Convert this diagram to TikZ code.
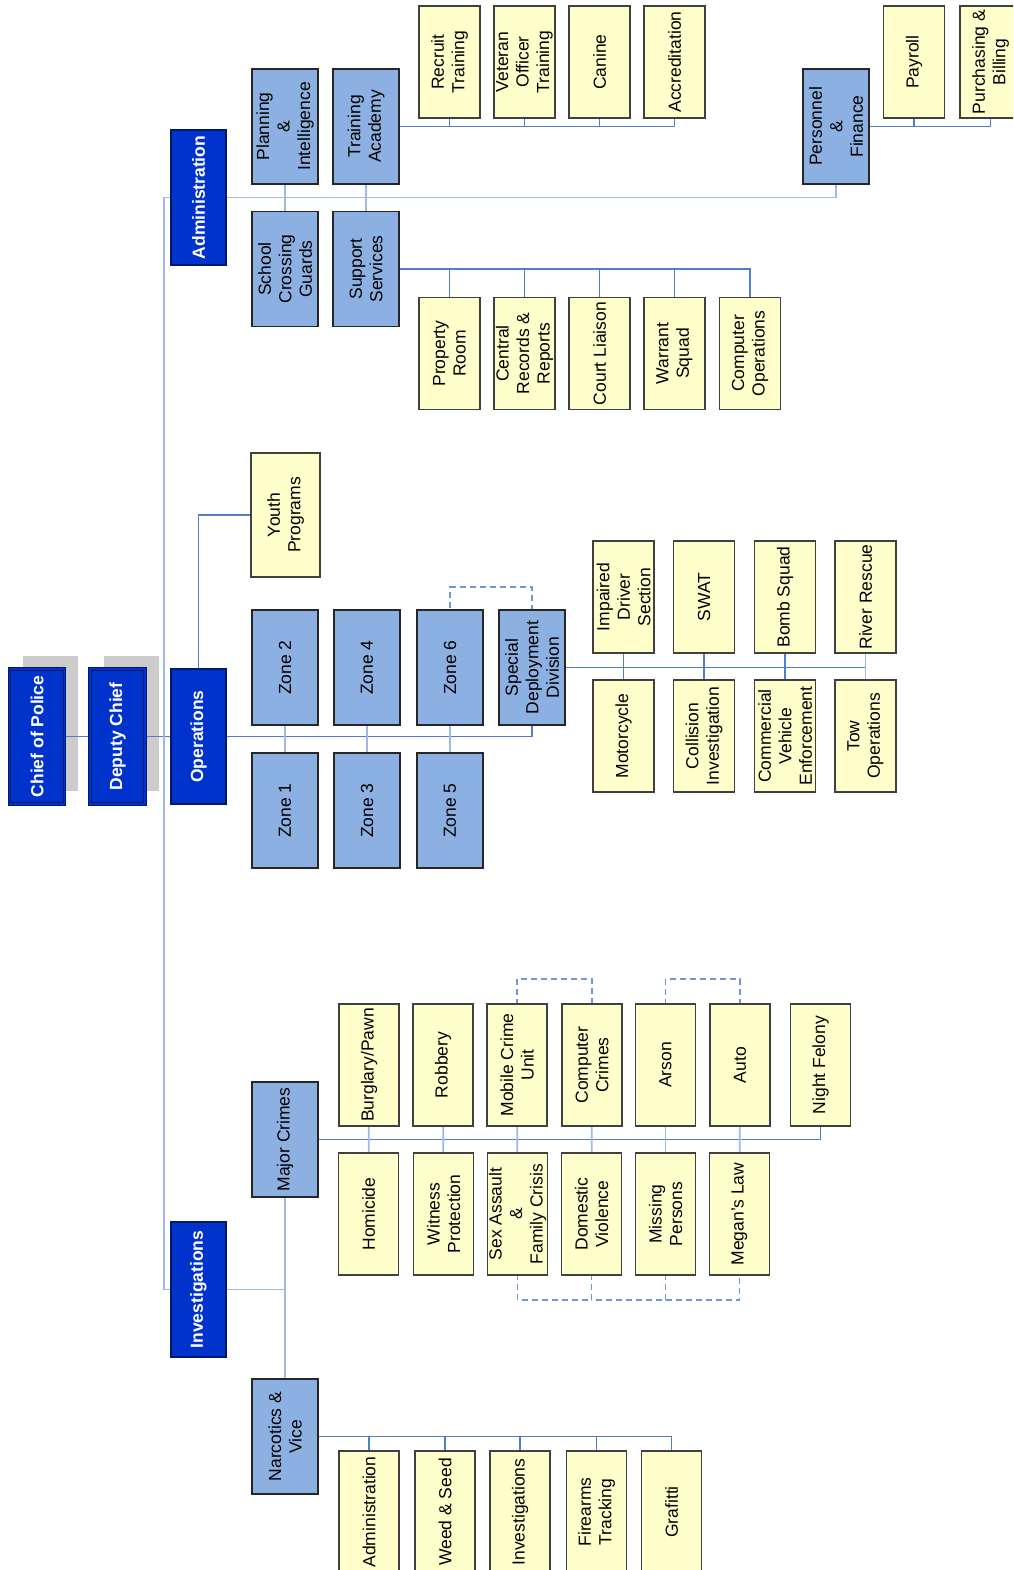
\documentclass[tikz,border=0pt]{standalone}
\usepackage{fontspec}
\setmainfont{Liberation Sans}
\usepackage{tikz}
\usetikzlibrary{backgrounds}
\usepackage{xcolor}
\definecolor{chiefblue}{HTML}{0033CC}
\definecolor{navyline}{HTML}{001A66}
\definecolor{unitblue}{HTML}{8DB0E2}
\definecolor{leafyellow}{HTML}{FFFFCC}
\definecolor{linkblue}{HTML}{4F7FCB}
\definecolor{linklight}{HTML}{9DB9E6}
\definecolor{dashblue}{HTML}{6F97D6}
\definecolor{shadowgrey}{HTML}{CCCCCC}
\tikzset{
	box/.style={rectangle, rotate=90, align=center, inner sep=0pt, line width=1.2pt, font=\fontsize{17.5}{20.5}\selectfont},
	topbox/.style={box, fill=chiefblue, draw=navyline, text=white, font=\fontsize{17.5}{20.5}\selectfont\bfseries, minimum width=135pt, minimum height=55pt},
	chiefbox/.style={topbox, double=chiefblue, double distance=1.5pt, line width=1pt},
	unitbox/.style={box, fill=unitblue, draw=black!85, minimum width=115pt, minimum height=66pt},
	leafbox/.style={box, fill=leafyellow, draw=black!75, minimum width=112pt, minimum height=61pt},
	crimebox/.style={leafbox, minimum width=122pt, minimum height=60pt},
	link/.style={draw=linkblue, line width=1.6pt},
	palelink/.style={draw=linklight, line width=1.6pt},
	dashlink/.style={draw=dashblue, line width=1.5pt, dash pattern=on 6pt off 4pt}
}
\begin{document}
\begin{tikzpicture}[x=1pt, y=-1pt]
	\useasboundingbox (0,0) rectangle (1013,1570);
	\clip (0,0) rectangle (1013,1570);
	% chiefs and divisions
	\node[chiefbox] (chief) at (37,736.5) {Chief of Police};
	\node[chiefbox] (deputy) at (117.5,736.5) {Deputy Chief};
	\node[topbox] (ops) at (198.5,736.5) {Operations};
	\node[topbox] (adm) at (198.5,197.5) {Administration};
	\node[topbox] (inv) at (198.5,1289.5) {Investigations};
	\coordinate (trunk) at (164,736.5);
	% administration
	\begin{scope}
		\node[unitbox] (plan) at (285,126.5) {Planning\\\&\\Intelligence};
		\node[unitbox] (guards) at (285,269) {School\\Crossing\\Guards};
		\node[unitbox] (academy) at (366,126.5) {Training\\Academy};
		\node[unitbox] (support) at (366,269) {Support\\Services};
		\node[unitbox] (personnel) at (836,126.5) {Personnel\\\&\\Finance};
		\node[leafbox] (recruit) at (449.5,62) {Recruit\\Training};
		\node[leafbox] (veteran) at (524.5,62) {Veteran\\Officer\\Training};
		\node[leafbox] (canine) at (599.5,62) {Canine};
		\node[leafbox] (accred) at (674.5,62) {Accreditation};
		\node[leafbox] (property) at (449.5,353.5) {Property\\Room};
		\node[leafbox] (records) at (524.5,353.5) {Central\\Records \&\\Reports};
		\node[leafbox] (court) at (599.5,353.5) {Court Liaison};
		\node[leafbox] (warrant) at (674.5,353.5) {Warrant\\Squad};
		\node[leafbox] (compops) at (750,353.5) {Computer\\Operations};
		\node[leafbox] (payroll) at (914,62) {Payroll};
		\node[leafbox] (purchasing) at (990.5,62) {Purchasing \&\\Billing};
	\end{scope}
	% operations
	\begin{scope}
		\node[leafbox, minimum width=124pt, minimum height=69pt] (youth) at (285.5,515) {Youth\\Programs};
		\node[unitbox] (zone2) at (285,667.5) {Zone 2};
		\node[unitbox] (zone1) at (285,810.5) {Zone 1};
		\node[unitbox] (zone4) at (367,667.5) {Zone 4};
		\node[unitbox] (zone3) at (367,810.5) {Zone 3};
		\node[unitbox] (zone6) at (450,667.5) {Zone 6};
		\node[unitbox] (zone5) at (450,810.5) {Zone 5};
		\node[unitbox] (sdd) at (532,667.5) {Special\\Deployment\\Division};
		\node[leafbox] (impaired) at (623.5,597) {Impaired\\Driver\\Section};
		\node[leafbox] (swat) at (704,597) {SWAT};
		\node[leafbox] (bomb) at (785,597) {Bomb Squad};
		\node[leafbox] (river) at (865.5,597) {River Rescue};
		\node[leafbox] (motorcycle) at (623.5,736) {Motorcycle};
		\node[leafbox] (collision) at (704,736) {Collision\\Investigation};
		\node[leafbox] (commercial) at (785,736) {Commercial\\Vehicle\\Enforcement};
		\node[leafbox] (tow) at (865.5,736) {Tow\\Operations};
	\end{scope}
	% investigations
	\begin{scope}
		\node[unitbox] (major) at (285,1139.5) {Major Crimes};
		\node[unitbox] (narcotics) at (285,1436.5) {Narcotics \&\\Vice};
		\node[crimebox] (burglary) at (369,1065) {Burglary/Pawn};
		\node[crimebox] (robbery) at (443,1065) {Robbery};
		\node[crimebox] (mobile) at (517,1065) {Mobile Crime\\Unit};
		\node[crimebox] (computer) at (592,1065) {Computer\\Crimes};
		\node[crimebox] (arson) at (665.5,1065) {Arson};
		\node[crimebox] (auto) at (740,1065) {Auto};
		\node[crimebox] (night) at (820.5,1065) {Night Felony};
		\node[crimebox] (homicide) at (368.5,1214) {Homicide};
		\node[crimebox] (witness) at (443.5,1214) {Witness\\Protection};
		\node[crimebox] (assault) at (517.5,1214) {Sex Assault\\\&\\Family Crisis};
		\node[crimebox] (domestic) at (591.5,1214) {Domestic\\Violence};
		\node[crimebox] (missing) at (665.5,1214) {Missing\\Persons};
		\node[crimebox] (megan) at (739.5,1214) {Megan’s Law};
		\node[crimebox] (nadmin) at (369,1512) {Administration};
		\node[crimebox] (weed) at (445,1512) {Weed \& Seed};
		\node[crimebox] (ninv) at (520,1512) {Investigations};
		\node[crimebox] (firearms) at (596.5,1512) {Firearms\\Tracking};
		\node[crimebox] (grafitti) at (671.5,1512) {Grafitti};
	\end{scope}
	\begin{scope}[on background layer]
		\fill[shadowgrey] (23,656) rectangle (78,791);
		\fill[shadowgrey] (104,656) rectangle (159,791);
		\draw[link] (chief.center) -- (ops.center);
		\draw[palelink] (adm.center) -| (trunk) |- (inv.center);
		% administration links
		\draw[palelink] (adm.center) -| (personnel.center);
		\draw[palelink] (plan.center) -- (guards.center);
		\draw[palelink] (academy.center) -- (support.center);
		\draw[link] (academy.center) -| (accred.center);
		\foreach \n in {recruit, veteran, canine}
			\draw[link] (\n.center) -- (\n.center |- academy.center);
		\draw[link] (support.center) -| (compops.center);
		\foreach \n in {property, records, court, warrant}
			\draw[link] (\n.center) -- (\n.center |- support.center);
		\draw[link] (personnel.center) -| (purchasing.center);
		\draw[link] (payroll.center) -- (payroll.center |- personnel.center);
		% operations links
		\draw[link] (ops.center) |- (youth.center);
		\draw[link] (ops.center) -| (sdd.center);
		\foreach \a/\b in {zone2/zone1, zone4/zone3, zone6/zone5}
			\draw[palelink] (\a.center) -- (\b.center);
		\draw[dashlink] (zone6.center) -- ++(0,-80.5) -| (sdd.center);
		\draw[link] (sdd.center) -- (sdd.center -| river.center);
		\foreach \a/\b in {impaired/motorcycle, swat/collision, bomb/commercial}
			\draw[link] (\a.center) -- (\b.center);
		\draw[palelink] (river.center) -- (tow.center);
		% investigations links
		\draw[palelink] (inv.center) -| (major.center);
		\draw[palelink] (major.center) -- (narcotics.center);
		\draw[link] (major.center) -| (night.center);
		\foreach \a/\b in {burglary/homicide, robbery/witness, mobile/assault, computer/domestic, arson/missing, auto/megan}
			\draw[palelink] (\a.center) -- (\b.center);
		\draw[dashlink] (mobile.center) -- ++(0,-86) -| (computer.center);
		\draw[dashlink] (arson.center) -- ++(0,-86) -| (auto.center);
		\draw[dashlink] (assault.center) -- ++(0,86) -| (domestic.center);
		\draw[dashlink] (domestic.center) -- ++(0,86) -| (megan.center);
		\draw[dashlink] (missing.center) -- ++(0,86);
		\draw[link] (narcotics.center) -| (grafitti.center);
		\foreach \n in {nadmin, weed, ninv, firearms}
			\draw[link] (\n.center) -- (\n.center |- narcotics.center);
	\end{scope}
\end{tikzpicture}
\end{document}
